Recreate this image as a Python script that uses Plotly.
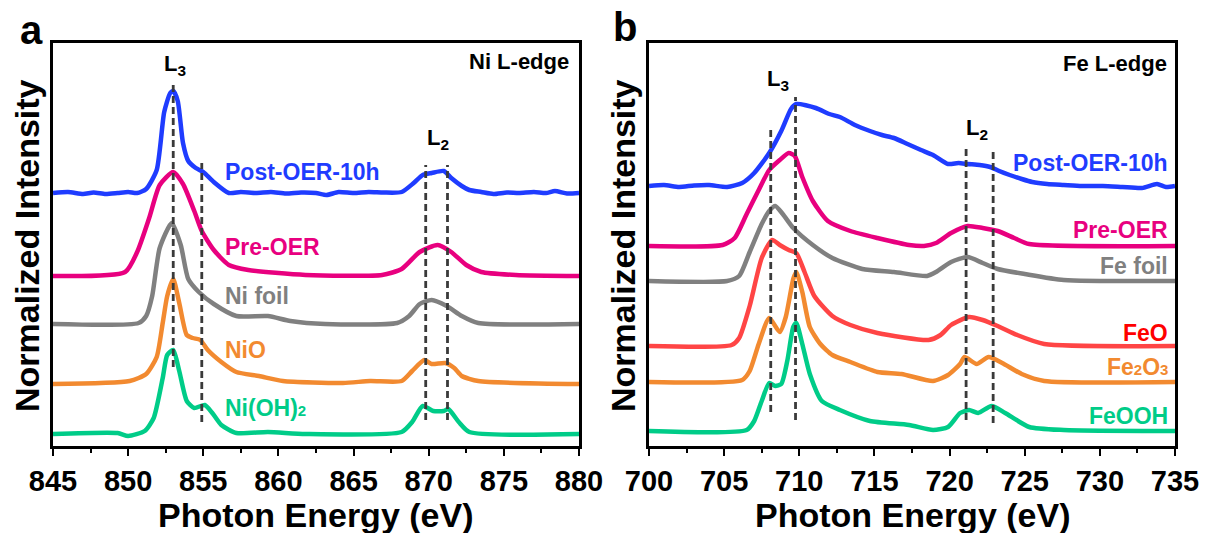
import plotly.graph_objects as go

# ---------------- Ni L-edge spectra (energy eV, relative intensity) ----------------
ni_post = [(845, 0), (846, 1), (847, -1), (847.7, 0.5), (848.5, -1), (849.3, 0), (850, 1), (850.6, 0),
           (851.2, 4), (851.9, 23), (852.4, 81), (852.8, 100), (853.0, 102), (853.3, 92), (853.65, 50),
           (854.0, 32), (854.5, 25), (855.0, 21), (855.7, 11), (856.7, 0), (857.5, 1), (858.5, 0),
           (859.5, 1), (860.5, -0.5), (861.5, 0.5), (862.5, 0), (863.2, -2), (864, 1), (865, 0),
           (866, 1), (867, 0.5), (868.2, 1), (869.0, 10), (869.6, 18), (870.2, 20), (871.0, 22),
           (871.5, 15), (872.2, 7), (872.7, 3), (873.5, 1), (874.3, -1), (875.2, 0.5), (876, 0),
           (877, 1), (877.8, 0), (878.4, 2), (879.2, -0.5), (880, 0)]
ni_pre = [(845, 0), (849.8, 4), (850.6, 24), (851.4, 58), (852.1, 91), (853.0, 104), (853.65, 92),
          (854.4, 65), (854.9, 45), (855.7, 26), (856.7, 11), (858.0, 6), (861.8, 1), (866.9, 1),
          (868.2, 7), (869.4, 24), (870.6, 31), (871.5, 24), (872.5, 11), (873.5, 4), (875.8, 1), (880, 0)]
ni_foil = [(845, 0), (850.7, 1), (851.2, 8), (851.6, 28), (852.1, 76), (852.9, 101), (853.5, 79),
           (854.0, 45), (854.7, 32), (855.7, 20), (857.2, 8), (859.3, 8), (860.8, 3), (863.1, 0),
           (867.9, 1), (868.7, 8), (869.4, 20), (870.2, 24), (871.2, 18), (872.2, 8), (873.3, 1), (880, 0)]
nio = [(845, 0), (850.1, 3), (851.2, 10), (851.9, 27), (852.3, 61), (852.6, 88), (853.0, 105),
       (853.4, 81), (853.9, 49), (854.3, 46), (854.8, 44), (855.3, 34), (856.2, 22), (857.2, 12),
       (858.7, 8), (860.3, 3), (864.3, 1), (866.1, 3), (868.2, 3), (868.9, 13), (869.7, 24),
       (870.2, 20), (871.1, 21), (871.7, 16), (872.2, 8), (873.3, 3), (880, 0)]
ni_oh2 = [(845, 0), (849.3, 1), (850.0, -2), (851.1, 3), (851.7, 16), (852.3, 56), (852.6, 79),
          (853.0, 84), (853.4, 63), (853.9, 33), (854.4, 26), (855.1, 29), (855.6, 21), (856.2, 9),
          (857.2, 1), (859.3, 2), (861.8, 0), (868.2, 2), (868.9, 12), (869.6, 28), (870.3, 23),
          (871.0, 23), (871.3, 25), (872.0, 12), (872.7, 2), (880, 0)]

# ---------------- Fe L-edge spectra ----------------
fe_post = [(700, 0), (701, 1), (702, -1), (703, 0.5), (704, 1), (705.2, -1), (706.2, 3), (707.0, 13),
           (708.0, 33), (708.8, 55), (709.45, 77), (709.8, 82), (711.1, 78), (712.0, 72), (712.7, 69),
           (713.7, 61), (714.7, 55), (715.5, 51), (716.3, 48), (717.2, 42), (718.1, 36), (718.9, 31),
           (719.9, 22), (720.6, 23), (721.2, 22), (722.0, 21), (722.7, 19), (723.3, 15), (724.0, 11),
           (724.8, 7), (725.5, 4), (726.5, 2), (727.6, 1), (728.8, 0), (730.2, 0), (731.5, -1),
           (732.8, -2), (733.8, 2), (734.4, -1), (735, 0)]
fe_pre = [(700, 0), (704.9, 1), (705.7, 8), (706.5, 32), (707.3, 56), (708.0, 76), (708.7, 86),
          (709.3, 93), (709.7, 90), (710.2, 69), (710.9, 45), (711.9, 25), (713.4, 15), (715.2, 8),
          (717.3, 1), (718.3, 0), (719.1, 3), (720.1, 13), (721.2, 20), (722.2, 18), (723.2, 15),
          (724.3, 8), (725.3, 2), (735, 0)]
fe_foil = [(700, 0), (705.2, 0), (706.0, 5), (706.7, 29), (707.5, 57), (708.0, 70), (708.4, 75),
           (708.9, 67), (709.6, 53), (710.9, 36), (712.2, 23), (714.2, 12), (716.3, 9), (718.5, 5),
           (719.1, 9), (720.1, 19), (721.2, 24), (722.2, 18), (723.2, 12), (725.0, 7), (727.6, 1), (735, 0)]
feo = [(700, 0), (705.5, 1), (706.0, 8), (706.7, 40), (707.5, 88), (708.2, 106), (708.7, 101),
       (709.3, 96), (709.8, 93), (710.35, 74), (711.0, 50), (712.2, 30), (713.4, 21), (715.2, 13),
       (718.6, 6), (719.4, 11), (720.1, 21), (721.3, 29), (722.2, 26), (723.2, 20), (724.5, 11),
       (726.3, 2), (735, 0)]
fe2o3 = [(700, 0), (706.2, 2), (706.7, 11), (707.3, 38), (708.0, 64), (708.7, 50), (709.1, 65),
         (709.6, 103), (709.8, 110), (710.2, 90), (710.7, 55), (711.4, 38), (712.2, 27), (713.4, 20),
         (715.2, 10), (716.8, 8), (718.9, 1), (719.9, 7), (720.7, 18), (721.0, 25), (721.8, 18),
         (722.6, 25), (723.5, 19), (724.8, 8), (726.3, 1), (735, 0)]
feooh = [(700, 0), (706.5, 1), (707.0, 10), (707.5, 30), (708.0, 48), (708.4, 45), (708.8, 47),
         (709.2, 70), (709.6, 104), (709.8, 108), (710.2, 87), (710.7, 57), (711.5, 30), (712.7, 21),
         (714.7, 10), (717.3, 6), (718.9, 1), (719.9, 4), (720.7, 18), (721.3, 21), (721.9, 18),
         (722.8, 25), (723.7, 18), (725.3, 4), (727.6, 1), (735, 0)]

# Per series: label, points, vertical offset, line colour, label colour, label height
ni_series = [
    ("Post-OER-10h", ni_post, 2.53, "#1f3cff", "#1f3cff", 2.74),
    ("Pre-OER", ni_pre, 1.70, "#e8007f", "#e8007f", 1.99),
    ("Ni foil", ni_foil, 1.22, "#808080", "#808080", 1.50),
    ("NiO", nio, 0.62, "#f28a30", "#f28a30", 0.96),
    ("Ni(OH)<span style='font-size:15px'>2</span>", ni_oh2, 0.12, "#00cc88", "#00cc88", 0.38),
]
fe_series = [
    ("Post-OER-10h", fe_post, 2.60, "#1f3cff", "#1f3cff", 2.83),
    ("Pre-OER", fe_pre, 2.00, "#e8007f", "#e8007f", 2.16),
    ("Fe foil", fe_foil, 1.65, "#808080", "#808080", 1.80),
    ("FeO", feo, 1.00, "#ff4545", "#ff0000", 1.13),
    ("Fe<span style='font-size:15px'>2</span>O<span style='font-size:15px'>3</span>", fe2o3, 0.64,
     "#f28a30", "#f28a30", 0.79),
    ("FeOOH", feooh, 0.15, "#00cc88", "#00cc88", 0.30),
]

# Dashed marker lines: (energy, y0, y1)
ni_dashes = [(853.0, 0.79, 3.64), (854.9, 0.24, 2.83), (869.8, 0.26, 2.81), (871.25, 0.26, 2.81)]
fe_dashes = [(708.1, 0.34, 3.18), (709.75, 0.26, 3.49), (721.1, 0.26, 3.00), (722.9, 0.23, 2.95)]

FONT = "Liberation Sans, Arial, sans-serif"

fig = go.Figure()

for name, pts, off, col, _, _ in ni_series:
    fig.add_trace(go.Scatter(x=[p[0] for p in pts], y=[off + p[1] / 100 for p in pts],
                             mode="lines", line=dict(color=col, width=4.5, shape="spline", smoothing=0.6),
                             xaxis="x", yaxis="y", showlegend=False))
for name, pts, off, col, _, _ in fe_series:
    fig.add_trace(go.Scatter(x=[p[0] for p in pts], y=[off + p[1] / 100 for p in pts],
                             mode="lines", line=dict(color=col, width=4.5, shape="spline", smoothing=0.6),
                             xaxis="x2", yaxis="y2", showlegend=False))

shapes = []
for xv, y0, y1 in ni_dashes:
    shapes.append(dict(type="line", xref="x", yref="y", x0=xv, x1=xv, y0=y0, y1=y1,
                       line=dict(color="#3a3a3a", width=2.8, dash="7px,4px")))
for xv, y0, y1 in fe_dashes:
    shapes.append(dict(type="line", xref="x2", yref="y2", x0=xv, x1=xv, y0=y0, y1=y1,
                       line=dict(color="#3a3a3a", width=2.8, dash="7px,4px")))

ann = []
lab_font = dict(family=FONT, size=23, weight="bold")
for name, pts, off, _, tcol, ly in ni_series:
    ann.append(dict(x=856.3, y=ly, xref="x", yref="y", text=name, showarrow=False,
                    xanchor="left", yanchor="middle", font=dict(lab_font, color=tcol)))
for name, pts, off, _, tcol, ly in fe_series:
    ann.append(dict(x=734.7, y=ly, xref="x2", yref="y2", text=name, showarrow=False,
                    xanchor="right", yanchor="middle", font=dict(lab_font, color=tcol)))

blk = dict(family=FONT, size=22, weight="bold", color="black")
ann += [
    dict(x=853.1, y=3.81, xref="x", yref="y", text="L<sub>3</sub>", showarrow=False, font=blk),
    dict(x=870.6, y=3.07, xref="x", yref="y", text="L<sub>2</sub>", showarrow=False, font=blk),
    dict(x=879.5, y=3.85, xref="x", yref="y", text="Ni L-edge", showarrow=False, xanchor="right", font=blk),
    dict(x=708.6, y=3.66, xref="x2", yref="y2", text="L<sub>3</sub>", showarrow=False, font=blk),
    dict(x=721.8, y=3.17, xref="x2", yref="y2", text="L<sub>2</sub>", showarrow=False, font=blk),
    dict(x=734.6, y=3.83, xref="x2", yref="y2", text="Fe L-edge", showarrow=False, xanchor="right", font=blk),
]

title_font = dict(family=FONT, size=34, weight="bold", color="black")
ann += [
    dict(x=316 / 1207, y=1 - 515 / 533, xref="paper", yref="paper", text="Photon Energy (eV)",
         showarrow=False, font=title_font, xanchor="center", yanchor="middle"),
    dict(x=912 / 1207, y=1 - 515 / 533, xref="paper", yref="paper", text="Photon Energy (eV)",
         showarrow=False, font=title_font, xanchor="center", yanchor="middle"),
    dict(x=27 / 1207, y=1 - 246 / 533, xref="paper", yref="paper", text="Normalized Intensity",
         showarrow=False, font=title_font, textangle=-90, xanchor="center", yanchor="middle"),
    dict(x=623 / 1207, y=1 - 246 / 533, xref="paper", yref="paper", text="Normalized Intensity",
         showarrow=False, font=title_font, textangle=-90, xanchor="center", yanchor="middle"),
    dict(x=31 / 1207, y=1 - 30 / 533, xref="paper", yref="paper", text="a", showarrow=False,
         font=dict(family=FONT, size=40, weight="bold", color="black"), xanchor="center", yanchor="middle"),
    dict(x=625 / 1207, y=1 - 27 / 533, xref="paper", yref="paper", text="b", showarrow=False,
         font=dict(family=FONT, size=40, weight="bold", color="black"), xanchor="center", yanchor="middle"),
]

xcommon = dict(showline=True, linewidth=2.5, linecolor="black", mirror=True, ticks="outside",
               ticklen=7, tickwidth=2, tickcolor="black", showgrid=False, zeroline=False,
               automargin=False,
               tickfont=dict(family=FONT, size=29, weight="bold", color="black"),
               minor=dict(ticks="outside", ticklen=4, tickwidth=2, tickcolor="black", dtick=2.5))
ycommon = dict(showline=True, linewidth=2.5, linecolor="black", mirror=True, ticks="",
               showticklabels=False, showgrid=False, zeroline=False, range=[0, 4.03],
               automargin=False, domain=[1 - 446 / 533, 1 - 43 / 533])

fig.update_layout(
    width=1207, height=533, margin=dict(l=0, r=0, t=0, b=0, autoexpand=False),
    paper_bgcolor="white", plot_bgcolor="white",
    xaxis=dict(xcommon, domain=[53 / 1207, 579 / 1207], range=[845, 880], tick0=845, dtick=5, anchor="y"),
    yaxis=dict(ycommon, anchor="x"),
    xaxis2=dict(xcommon, domain=[649 / 1207, 1175 / 1207], range=[700, 735], tick0=700, dtick=5, anchor="y2"),
    yaxis2=dict(ycommon, anchor="x2"),
    shapes=shapes, annotations=ann,
)

fig.write_html("out.html")
